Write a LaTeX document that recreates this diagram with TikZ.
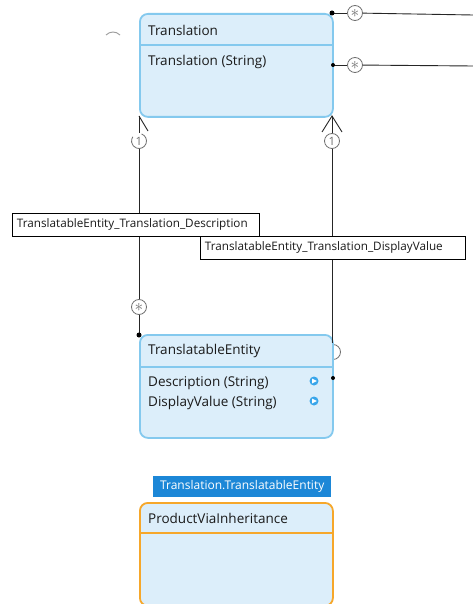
\documentclass[tikz,border=0pt]{standalone}
\usepackage{fontspec}
\setmainfont{Open Sans}
\definecolor{boxfill}{HTML}{DCEEFA}
\definecolor{boxline}{HTML}{84C9EE}
\definecolor{orangeline}{HTML}{F6A72A}
\definecolor{tagblue}{HTML}{1C87D7}
\definecolor{icon}{HTML}{3AA6EA}
\definecolor{txt}{HTML}{1A1A1A}
\definecolor{mgray}{HTML}{707070}
\newcommand{\mystar}{{\fontsize{16}{16}\selectfont$\ast$}}
\tikzset{
  entity/.style={draw=boxline, fill=boxfill, line width=1.8pt, rounded corners=8pt,
    minimum width=193pt, minimum height=103pt, anchor=north west, inner sep=0pt},
  title/.style={anchor=west, font=\fontsize{13.5}{15}\selectfont, text=txt, inner sep=0pt},
  attr/.style={anchor=west, font=\fontsize{13.5}{15}\selectfont, text=txt, inner sep=0pt},
  mult/.style={circle, draw=mgray, fill=white, line width=0.8pt, minimum size=15pt, inner sep=0pt,
    font=\fontsize{11.5}{12}\selectfont, text=mgray},
  conn/.style={draw=black!85, line width=0.9pt},
  endot/.style={circle, fill=black, inner sep=0pt, minimum size=5pt},
  lbl/.style={draw=black, line width=0.9pt, fill=white, font=\fontsize{11.7}{13}\selectfont,
    inner xsep=4.5pt, inner ysep=0pt, anchor=north west, minimum height=23pt, text=txt,
    text width=#1, align=left},
  icn/.style={circle, fill=icon, minimum size=9pt, inner sep=0pt}
}
\begin{document}
\begin{tikzpicture}[x=1pt,y=-1pt]
\useasboundingbox[fill=white] (0,0) rectangle (473,604);

% faint arc at left
\draw[mgray!70, line width=0.9pt] (106,35) .. controls (110,31) and (116,31) .. (120,35);

% top-right connectors
\coordinate (trA) at (332,13);
\coordinate (trB) at (333,65);
\coordinate (farA) at (473,15);
\coordinate (farB) at (473,66);
\node[mult] (mA) at (355,13) {\mystar};
\node[mult] (mB) at (355,65) {\mystar};
\draw[conn] (trA) -- (mA);
\draw[conn] (mA) -- (farA);
\draw[conn] (trB) -- (mB);
\draw[conn] (mB) -- (farB);

% partial circle right of TranslatableEntity (drawn before box)
\draw[mgray, line width=0.8pt] (333,352) circle (7.5pt);

% Translation entity
\node[entity] (tr) at (139,13) {};
\draw[boxline, line width=1.5pt] (139,45) -- (332,45);
\node[title] (trt) at (148,30) {Translation};
\node[attr] (tra) at (148,62) {Translation (String)};
\node[endot] at (trA) {};
\node[endot, minimum size=4pt] at (trB) {};

% TranslatableEntity
\node[entity] (te) at (139,334) {};
\draw[boxline, line width=1.5pt] (139,367) -- (332,367);
\node[title] (tet) at (148,351) {TranslatableEntity};
\node[attr] (tea) at (148,383) {Description (String)};
\node[attr] (teb) at (148,403) {DisplayValue (String)};
\node[icn] (ia) at (314,381) {};
\node[icn] (ib) at (314,401) {};
\fill[white] (312.2,378.6) -- (316.8,381) -- (312.2,383.4) -- cycle;
\fill[white] (312.2,398.6) -- (316.8,401) -- (312.2,403.4) -- cycle;
\node[endot, minimum size=4pt] at (333,378) {};

% left connector
\coordinate (lTop) at (139,116);
\coordinate (lBot) at (139,335);
\node[mult, draw=none, fill=none] (m1L) at (139,141) {1};
\draw[conn] (lTop) -- (m1L.north);
\draw[mgray, line width=0.8pt] (139,141) ++(70:7.5pt) arc[start angle=70, end angle=-215, radius=7.5pt];
\draw[conn] (lTop) -- (148,131);
\node[mult] (msL) at (139,307) {\mystar};
\draw[conn] (m1L.south) -- (msL);
\draw[conn] (msL) -- (lBot);
\node[endot] at (lBot) {};

% right connector
\coordinate (rTop) at (332,116);
\coordinate (rBot) at (332,343);
\node[mult] (m1R) at (332,141) {1};
\draw[conn] (rTop) -- (m1R);
\draw[conn] (322,132) -- (rTop) -- (342,132);
\draw[conn] (m1R) -- (rBot);

% labels
\node[lbl=238pt] (l1) at (12,213) {TranslatableEntity\_Translation\_Description};
\node[lbl=256pt] (l2) at (200,236) {TranslatableEntity\_Translation\_DisplayValue};

% ProductViaInheritance
\node[fill=tagblue, text=white, font=\fontsize{12}{13}\selectfont, anchor=north west,
  minimum width=178pt, minimum height=21pt, inner sep=0pt] (tag) at (153,476) {Translation.TranslatableEntity};
\node[entity, draw=orangeline] (pv) at (139,502) {};
\draw[orangeline, line width=1.5pt] (139,533) -- (332,533);
\node[title] (pvt) at (148,518) {ProductViaInheritance};
\end{tikzpicture}
\end{document}
